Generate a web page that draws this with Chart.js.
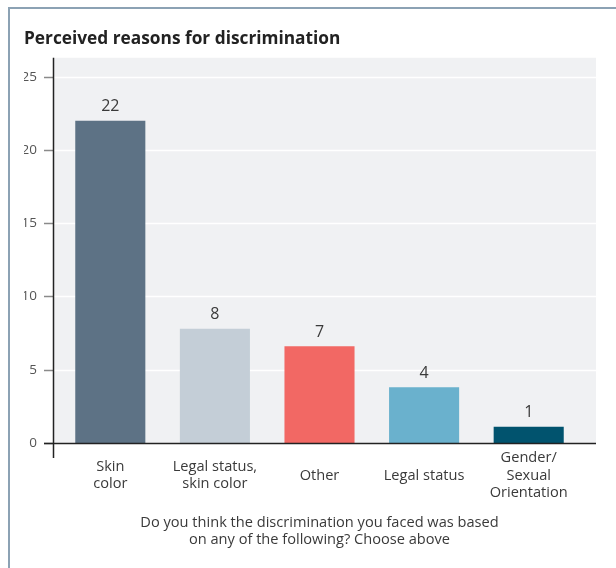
<!DOCTYPE html>
<html>
<head>
<meta charset="utf-8">
<script src="https://cdn.jsdelivr.net/npm/chart.js@4/dist/chart.umd.min.js"></script>
<style>
  html, body { margin: 0; padding: 0; background: #fff; }
  #wrap { position: relative; width: 616px; height: 568px; }
</style>
</head>
<body>
<div id="wrap"><canvas id="chart" width="616" height="568"></canvas></div>
<script>
const categories = [['Skin', 'color'], ['Legal status,', 'skin color'], 'Other', 'Legal status', ['Gender/', 'Sexual', 'Orientation']];
const values = [22, 7.8, 6.6, 3.8, 1.1];
const barColors = ['#5d7285', '#c4ced7', '#f26864', '#6ab1cd', '#01536e'];
const yTicks = [0, 5, 10, 15, 20, 25];

const FONT = '"Open Sans", "Noto Sans", sans-serif';

// frame, plot background, grid and axis lines, value labels
const decorations = {
    id: 'decorations',
    beforeDraw(chart) {
        const ctx = chart.ctx;
        ctx.save();
        ctx.strokeStyle = '#8ca2b4';
        ctx.lineWidth = 2;
        ctx.beginPath();
        ctx.moveTo(9, 568);
        ctx.lineTo(9, 8);
        ctx.lineTo(616, 8);
        ctx.stroke();
        ctx.restore();
    },
    beforeDatasetsDraw(chart) {
        const { ctx, chartArea: a, scales: { y } } = chart;
        const x0 = a.left - 5, x1 = a.right + 15;
        ctx.save();
        ctx.fillStyle = '#f0f1f3';
        ctx.fillRect(x0, a.top, x1 - x0, a.bottom - a.top);
        yTicks.forEach(v => {
            const py = Math.round(y.getPixelForValue(v)) + 0.5;
            if (v !== 0) {
                ctx.strokeStyle = '#ffffff';
                ctx.lineWidth = 1.5;
                ctx.beginPath();
                ctx.moveTo(x0, py);
                ctx.lineTo(x1, py);
                ctx.stroke();
            }
            ctx.strokeStyle = '#8a8a8a';
            ctx.lineWidth = 1.5;
            ctx.beginPath();
            ctx.moveTo(x0 - 9, py);
            ctx.lineTo(x0, py);
            ctx.stroke();
        });
        ctx.restore();
    },
    afterDatasetsDraw(chart) {
        const { ctx, chartArea: a, scales: { y } } = chart;
        const x0 = a.left - 5, x1 = a.right + 15;
        const py = Math.round(y.getPixelForValue(0)) + 0.5;
        ctx.save();
        ctx.strokeStyle = '#222';
        ctx.lineWidth = 1.5;
        ctx.beginPath();
        ctx.moveTo(x0 - 9, py);
        ctx.lineTo(x1, py);
        ctx.moveTo(x0 + 0.5, a.top);
        ctx.lineTo(x0 + 0.5, a.bottom + 15);
        ctx.stroke();

        ctx.fillStyle = '#3a3a3a';
        ctx.font = '16px ' + FONT;
        ctx.textAlign = 'center';
        ctx.textBaseline = 'middle';
        chart.getDatasetMeta(0).data.forEach((bar, i) => {
            ctx.fillText(String(Math.round(values[i])), bar.x, bar.y - 14);
        });
        ctx.restore();
    }
};

new Chart(document.getElementById('chart'), {
    type: 'bar',
    data: {
        labels: categories,
        datasets: [{
            data: values,
            backgroundColor: barColors,
            borderWidth: 0,
            categoryPercentage: 1,
            barPercentage: 0.67
        }]
    },
    plugins: [decorations],
    options: {
        responsive: false,
        animation: false,
        layout: { padding: { left: 24, right: 35, top: 0, bottom: 19 } },
        plugins: {
            legend: { display: false },
            tooltip: { enabled: false },
            title: {
                display: true,
                text: 'Perceived reasons for discrimination',
                align: 'start',
                color: '#222',
                font: { family: FONT, size: 17.3, weight: 'bold' },
                padding: { top: 29, bottom: 8 }
            }
        },
        scales: {
            x: {
                grid: { display: false, drawTicks: false },
                border: { display: false },
                ticks: {
                    color: '#3a3a3a',
                    font: { family: FONT, size: 14.6, lineHeight: 1.2 },
                    padding: 15,
                    maxRotation: 0,
                    autoSkip: false,
                    crossAlign: 'center'
                },
                title: {
                    display: true,
                    text: ['Do you think the discrimination you faced was based', 'on any of the following? Choose above'],
                    color: '#3a3a3a',
                    font: { family: FONT, size: 14.6, lineHeight: 1.2 },
                    padding: { top: -11.5, bottom: 0 }
                }
            },
            y: {
                min: 0,
                max: 26.3,
                grid: { display: false, drawTicks: false },
                border: { display: false },
                afterBuildTicks: scale => {
                    scale.ticks = yTicks.map(v => ({ value: v }));
                },
                afterFit: scale => { scale.width = 34; },
                ticks: {
                    color: '#555',
                    font: { family: FONT, size: 13.5 },
                    padding: 21
                }
            }
        }
    }
});
</script>
</body>
</html>
